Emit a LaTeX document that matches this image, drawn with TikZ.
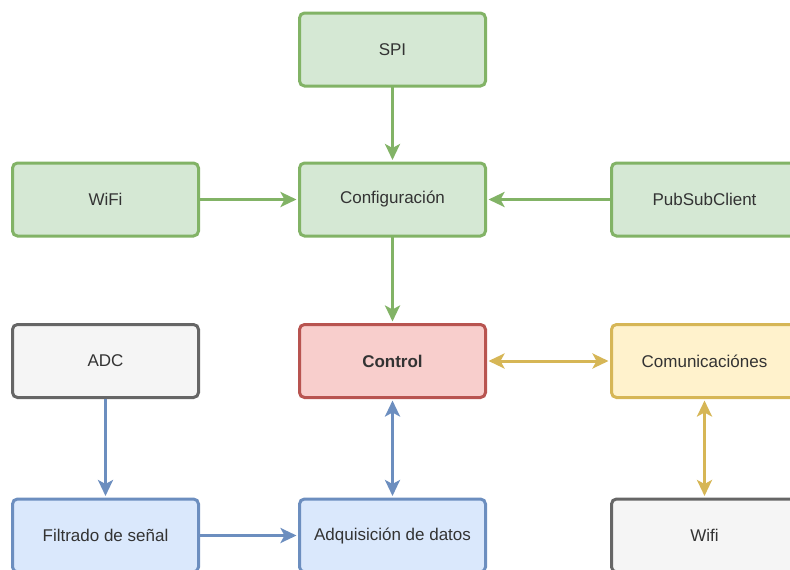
\documentclass[tikz,border=0pt]{standalone}
\usepackage{fontspec}
\setmainfont{Liberation Sans}
\usetikzlibrary{arrows.meta}

\definecolor{gfill}{HTML}{D5E8D4}\definecolor{gline}{HTML}{82B366}
\definecolor{rfill}{HTML}{F8CECC}\definecolor{rline}{HTML}{B85450}
\definecolor{yfill}{HTML}{FFF2CC}\definecolor{yline}{HTML}{D6B656}
\definecolor{bfill}{HTML}{DAE8FC}\definecolor{bline}{HTML}{6C8EBF}
\definecolor{nfill}{HTML}{F5F5F5}\definecolor{nline}{HTML}{666666}
\definecolor{ntext}{HTML}{333333}

\tikzset{
  blk/.style={rectangle, rounded corners=5pt, line width=3pt,
    minimum width=186pt, minimum height=73pt, inner sep=0pt, outer sep=0pt,
    font=\fontsize{17}{20}\selectfont, text=ntext},
  greenblk/.style={blk, draw=gline, fill=gfill},
  redblk/.style={blk, draw=rline, fill=rfill},
  yellowblk/.style={blk, draw=yline, fill=yfill},
  blueblk/.style={blk, draw=bline, fill=bfill},
  grayblk/.style={blk, draw=nline, fill=nfill},
  tip/.tip={Stealth[length=16pt, width=15pt, inset=4pt]},
  link/.style={line width=3pt, -tip, shorten >=3pt, shorten <=1pt},
  duallink/.style={line width=3pt, tip-tip, shorten >=3pt, shorten <=3pt},
}

\begin{document}
\begin{tikzpicture}[x=1pt, y=-1pt]
  \useasboundingbox (0,0) rectangle (790,570);
  \clip (0,0) rectangle (790,570);

  % upper configuration layer
  \node[greenblk] (spi)    at (392.5, 49.5)  {SPI};
  \node[greenblk] (wifi)   at (105.5, 199.5) {WiFi};
  \node[greenblk] (config) at (392.5, 199.5) {Configuración};
  \node[greenblk] (pubsub) at (704.5, 199.5) {PubSubClient};

  % middle row
  \node[grayblk]   (adc)     at (105.5, 361) {ADC};
  \node[redblk]    (control) at (392.5, 361) {\bfseries Control};
  \node[yellowblk] (comms)   at (704.5, 361) {Comunicaciónes};

  % lower row
  \node[blueblk] (filter)  at (105.5, 535.5) {Filtrado de señal};
  \node[blueblk] (acq)     at (392.5, 535.5) {Adquisición de datos};
  \node[grayblk] (wifi2)   at (704.5, 535.5) {Wifi};

  % configuration flow
  \draw[link, gline] (spi) -- (config);
  \draw[link, gline] (wifi) -- (config);
  \draw[link, gline] (pubsub.west) -- (config.east);
  \draw[link, gline] (config) -- (control);

  % signal chain
  \draw[link, bline] (adc) -- (filter);
  \draw[link, bline] (filter) -- (acq);
  \draw[duallink, bline] (control) -- (acq);

  % communications
  \draw[duallink, yline] (control) -- (comms);
  \draw[duallink, yline] (comms) -- (wifi2);
\end{tikzpicture}
\end{document}
